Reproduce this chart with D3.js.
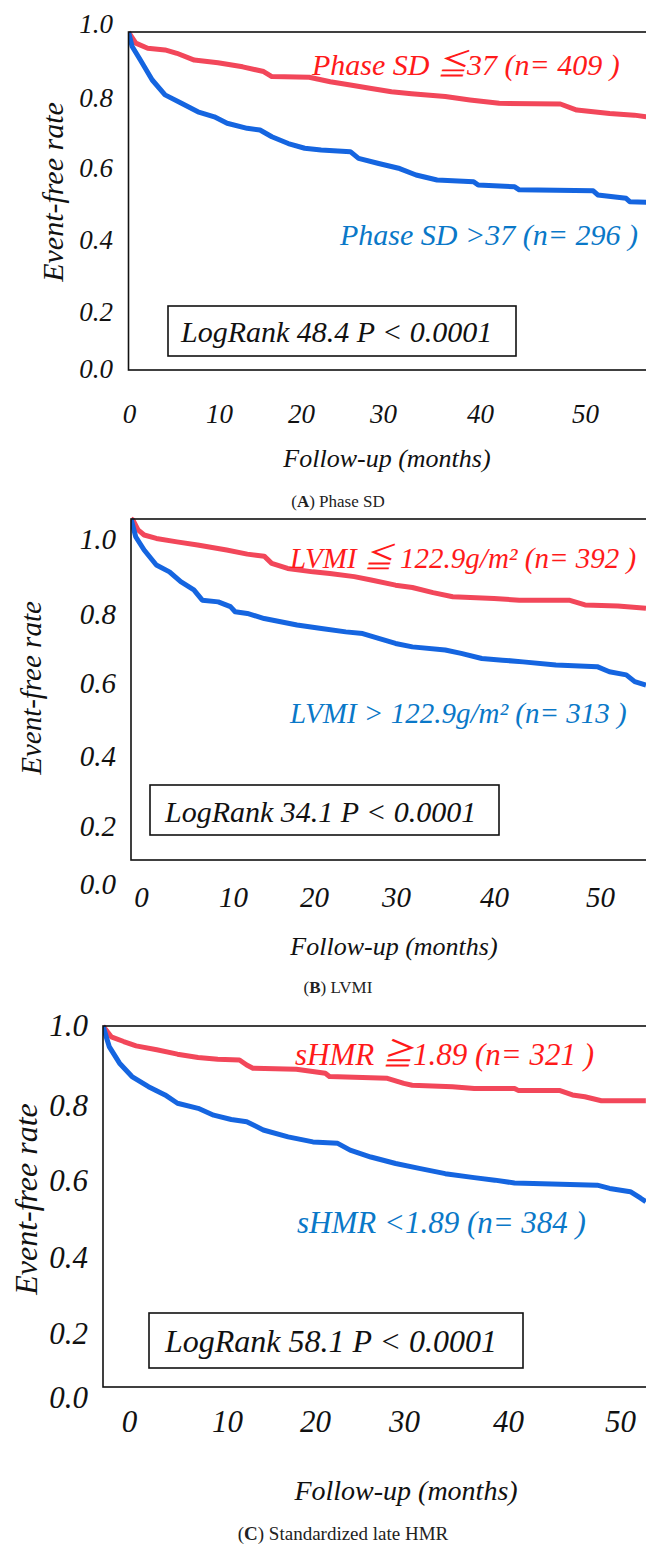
<!DOCTYPE html>
<html><head><meta charset="utf-8">
<script src="https://cdn.jsdelivr.net/npm/d3@7"></script>
<style>body{margin:0;background:#fff}svg{display:block}</style>
</head><body><svg id="c" width="646" height="1544"></svg>
<script>
// ---------- DATA ----------
const yTickValues = [0, 0.2, 0.4, 0.6, 0.8, 1.0];
const xTickValues = [0, 10, 20, 30, 40, 50];
const yAxisTitle = "Event-free rate";
const xAxisTitle = "Follow-up (months)";

// Panel A: Phase SD
const phaseLowMonths = [0,0.8,2.1,4.0,5.3,7.2,9.8,12.5,14.8,15.7,19.8,22.1,24.3,26.6,28.8,31.0,34.7,37.4,40.6,47.3,49.1,52.7,55.4,56.7];
const phaseLowRate   = [1.0,.967,.952,.947,.937,.917,.909,.897,.883,.868,.866,.853,.843,.833,.823,.817,.809,.799,.789,.787,.769,.759,.754,.749];
const phaseHighMonths = [0,0.4,1.3,2.6,4.0,5.8,7.6,9.4,10.8,13.0,14.4,15.7,17.5,19.3,21.1,24.3,25.2,27.4,29.7,31.5,33.8,37.8,38.3,42.3,42.8,50.9,51.4,54.5,54.9,56.7];
const phaseHighRate   = [1.0,.957,.917,.858,.814,.789,.764,.749,.730,.715,.710,.690,.670,.656,.651,.646,.626,.611,.596,.577,.562,.557,.547,.542,.533,.530,.518,.508,.498,.496];

// Panel B: LVMI
const lvmiLowMonths = [0,0.2,0.75,1.4,2.7,4.9,7.1,10.2,12.4,14.2,15.0,16.7,19.4,21.2,23.8,25.6,28.2,30.0,32.2,34.3,38.7,41.4,46.7,48.4,51.9,54.9];
const lvmiLowRate   = [1.0,.997,.968,.953,.943,.933,.924,.909,.897,.891,.870,.855,.845,.840,.831,.821,.806,.799,.784,.772,.767,.762,.762,.748,.745,.738];
const lvmiHighMonths = [0,0.5,1.4,2.7,4.1,5.3,6.7,7.6,9.3,10.6,11.1,12.4,14.2,17.7,20.3,22.9,24.7,26.4,28.2,30.0,33.5,35.2,37.4,39.6,41.8,45.3,49.7,51.0,52.8,53.7,54.9];
const lvmiHighRate   = [1.0,.948,.909,.865,.845,.816,.792,.762,.757,.743,.728,.723,.708,.689,.679,.669,.664,.650,.635,.625,.616,.606,.591,.586,.581,.572,.567,.552,.543,.523,.513];

// Panel C: standardized late HMR
const hmrHighMonths = [0,0.8,2.0,3.2,5.2,7.2,9.2,11.1,13.2,13.9,14.5,18.7,21.5,21.9,27.5,29.1,29.9,33.8,35.9,39.8,40.2,44.2,45.4,46.6,48.2,52.5];
const hmrHighRate   = [1.0,.970,.957,.945,.934,.922,.913,.908,.906,.892,.883,.880,.869,.860,.855,.841,.836,.832,.827,.827,.821,.821,.809,.804,.793,.793];
const hmrLowMonths = [0,0.6,1.6,2.8,4.4,6.0,7.2,9.2,10.7,12.4,13.9,15.5,17.9,20.3,22.7,23.9,25.9,28.3,30.7,33.1,35.9,37.9,39.8,43.4,47.8,49.0,51.0,52.0,52.5];
const hmrLowRate   = [1.0,.943,.897,.860,.832,.809,.786,.772,.753,.741,.735,.712,.693,.679,.675,.656,.637,.619,.605,.591,.580,.573,.565,.562,.559,.550,.541,.523,.513];

const groupLabels = [
  ["Phase SD \u226637 (n= 409 )", "Phase SD >37 (n= 296 )"],
  ["LVMI \u2266 122.9g/m\u00b2 (n= 392 )", "LVMI > 122.9g/m\u00b2 (n= 313 )"],
  ["sHMR \u22671.89 (n= 321 )", "sHMR <1.89 (n= 384 )"]
];
const logRankTexts = ["LogRank 48.4 P < 0.0001", "LogRank 34.1 P < 0.0001", "LogRank 58.1 P < 0.0001"];
const captionLetters = ["A", "B", "C"];
const captionTexts = [" Phase SD", " LVMI", " Standardized late HMR"];

// ---------- LAYOUT / STYLE ----------
const RED_LINE = "#f2475a", BLUE_LINE = "#1565e0";
const RED_TEXT = "#ff1a1a", BLUE_TEXT = "#0a78c8";
const FONT = "'Liberation Serif','Times New Roman','Noto Sans CJK JP',serif";

const panels = [
  { red: [phaseLowMonths, phaseLowRate], blue: [phaseHighMonths, phaseHighRate],
    left: 128.5, top: 32, bottom: 370, x50: 585,
    yLabX: 113, yLabBase: [377,320,248,176,106,32], tickFs: 27,
    xLabBase: 423, xLabPos: [129,219,301,383,480,585],
    yTitle: {x: 63, y: 192, fs: 30}, xTitle: {x: 387, y: 467, fs: 26},
    cap: {x: 338, y: 507, fs: 17},
    redLab: {x: 312, y: 75, fs: 30}, blueLab: {x: 340, y: 245, fs: 30},
    box: {x: 168, y: 306, w: 348, h: 50}, lr: {x: 181, y: 342, fs: 30} },
  { red: [lvmiLowMonths, lvmiLowRate], blue: [lvmiHighMonths, lvmiHighRate],
    left: 131, top: 519, bottom: 860, x50: 600,
    yLabX: 116, yLabBase: [893,835,765,692,623,548], tickFs: 29,
    xLabBase: 907, xLabPos: [141,233,314,396,494,600],
    yTitle: {x: 41, y: 688, fs: 29}, xTitle: {x: 394, y: 955, fs: 26},
    cap: {x: 338, y: 993, fs: 17},
    redLab: {x: 290, y: 568, fs: 29}, blueLab: {x: 290, y: 723, fs: 29},
    box: {x: 150, y: 785, w: 349, h: 50}, lr: {x: 165, y: 822, fs: 30} },
  { red: [hmrHighMonths, hmrHighRate], blue: [hmrLowMonths, hmrLowRate],
    left: 103, top: 1026, bottom: 1387, x50: 620,
    yLabX: 88, yLabBase: [1407,1343,1267,1190,1115,1035], tickFs: 31,
    xLabBase: 1432, xLabPos: [129,227,315,404,508,620],
    yTitle: {x: 37, y: 1199, fs: 32}, xTitle: {x: 406, y: 1500, fs: 28},
    cap: {x: 343, y: 1540, fs: 19},
    redLab: {x: 295, y: 1065, fs: 31}, blueLab: {x: 297, y: 1233, fs: 31},
    box: {x: 149, y: 1313, w: 374, h: 55}, lr: {x: 165, y: 1352, fs: 32} }
];

// ---------- DRAW ----------
const svg = d3.select("#c");
svg.append("rect").attr("width", 646).attr("height", 1544).attr("fill", "#fff");
const W = 646;

panels.forEach((p, i) => {
  const g = svg.append("g");
  const x = d3.scaleLinear().domain([0, 50]).range([p.left, p.x50]);
  const y = d3.scaleLinear().domain([0, 1]).range([p.bottom, p.top]);
  const yLab = d3.scaleLinear().domain(yTickValues).range(p.yLabBase);
  const xLab = d3.scaleLinear().domain(xTickValues).range(p.xLabPos);

  const cid = "clip" + i;
  svg.append("clipPath").attr("id", cid).append("rect")
    .attr("x", p.left).attr("y", p.top - 4).attr("width", W - p.left).attr("height", p.bottom - p.top + 4);

  const line = d3.line().x(d => x(d[0])).y(d => y(d[1])).curve(d3.curveLinear);
  [[p.red, RED_LINE], [p.blue, BLUE_LINE]].forEach(([s, col]) => {
    const pts = s[0].map((t, k) => [t, s[1][k]]);
    g.append("path").attr("d", line(pts)).attr("fill", "none")
      .attr("stroke", col).attr("stroke-width", 5).attr("stroke-linejoin", "round")
      .attr("clip-path", `url(#${cid})`);
  });

  g.append("rect").attr("x", p.left).attr("y", p.top)
    .attr("width", W + 20 - p.left).attr("height", p.bottom - p.top)
    .attr("fill", "none").attr("stroke", "#111").attr("stroke-width", 1.6);

  const ya = g.append("g").attr("transform", `translate(${p.yLabX},0)`)
    .call(d3.axisLeft(yLab).tickValues(yTickValues).tickSize(0).tickPadding(0).tickFormat(d3.format(".1f")));
  ya.select(".domain").remove();
  ya.selectAll("text").attr("dy", 0).attr("x", 0).attr("font-family", FONT)
    .attr("font-style", "italic").attr("font-size", p.tickFs).attr("fill", "#111").attr("text-anchor", "end");

  const xa = g.append("g").attr("transform", `translate(0,${p.xLabBase})`)
    .call(d3.axisBottom(xLab).tickValues(xTickValues).tickSize(0).tickPadding(0).tickFormat(d3.format("d")));
  xa.select(".domain").remove();
  xa.selectAll("text").attr("dy", 0).attr("y", 0).attr("font-family", FONT)
    .attr("font-style", "italic").attr("font-size", p.tickFs).attr("fill", "#111");

  g.append("text").attr("transform", `translate(${p.yTitle.x},${p.yTitle.y}) rotate(-90)`)
    .attr("text-anchor", "middle").attr("font-family", FONT).attr("font-style", "italic")
    .attr("font-size", p.yTitle.fs).attr("fill", "#111").text(yAxisTitle);
  g.append("text").attr("x", p.xTitle.x).attr("y", p.xTitle.y)
    .attr("text-anchor", "middle").attr("font-family", FONT).attr("font-style", "italic")
    .attr("font-size", p.xTitle.fs).attr("fill", "#111").text(xAxisTitle);

  g.append("text").attr("x", p.redLab.x).attr("y", p.redLab.y).attr("font-family", FONT)
    .attr("font-style", "italic").attr("font-size", p.redLab.fs).attr("fill", RED_TEXT).text(groupLabels[i][0]);
  g.append("text").attr("x", p.blueLab.x).attr("y", p.blueLab.y).attr("font-family", FONT)
    .attr("font-style", "italic").attr("font-size", p.blueLab.fs).attr("fill", BLUE_TEXT).text(groupLabels[i][1]);

  g.append("rect").attr("x", p.box.x).attr("y", p.box.y).attr("width", p.box.w).attr("height", p.box.h)
    .attr("fill", "#fff").attr("stroke", "#111").attr("stroke-width", 1.6);
  g.append("text").attr("x", p.lr.x).attr("y", p.lr.y).attr("font-family", FONT)
    .attr("font-style", "italic").attr("font-size", p.lr.fs).attr("fill", "#111").text(logRankTexts[i]);

  const cap = g.append("text").attr("x", p.cap.x).attr("y", p.cap.y).attr("text-anchor", "middle")
    .attr("font-family", FONT).attr("font-size", p.cap.fs).attr("fill", "#222");
  cap.append("tspan").text("(");
  cap.append("tspan").attr("font-weight", "bold").text(captionLetters[i]);
  cap.append("tspan").text(")" + captionTexts[i]);
});
</script>
</body></html>
